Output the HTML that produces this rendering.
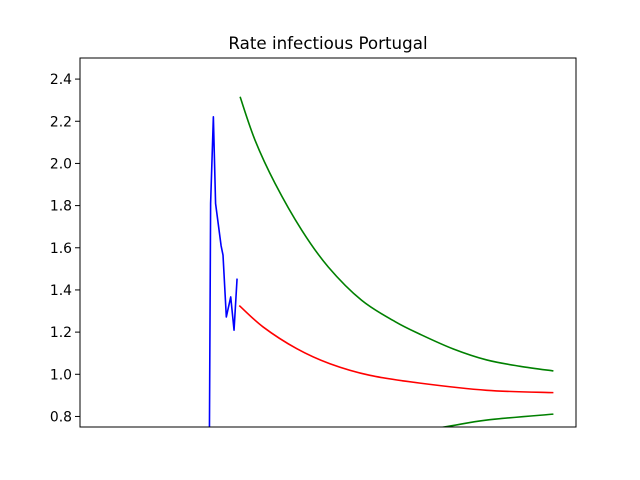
<!DOCTYPE html>
<html><head><meta charset="utf-8"><style>
html,body{margin:0;padding:0;background:#fff;width:640px;height:480px;overflow:hidden}
svg{display:block}
svg text{font-family:"DejaVu Sans","Liberation Sans",sans-serif}
</style></head><body>
<svg id="chart" width="640" height="480" xmlns="http://www.w3.org/2000/svg">
<rect width="640" height="480" fill="#fff"/>
<text x="328" y="49" text-anchor="middle" font-size="16.7">Rate infectious Portugal</text>
<defs><clipPath id="clip"><rect x="80" y="58" width="496" height="369"/></clipPath></defs>
<g id="yaxis"></g>
<g id="series" clip-path="url(#clip)"></g>
<rect x="80" y="58" width="496" height="369" fill="none" stroke="#000" stroke-width="1"/>
</svg>
<script>
const yTicks=[0.8,1.0,1.2,1.4,1.6,1.8,2.0,2.2,2.4];
const yTickLabels=["0.8","1.0","1.2","1.4","1.6","1.8","2.0","2.2","2.4"];
const blueT=[46.8,47.4,48.4,49.2,51.2,51.9,53.1,54.7,55.9,57.0];
const blueV=[0.3,1.81,2.221,1.81,1.61,1.565,1.272,1.367,1.209,1.454];
const greenUpT=[58.1,63.5,70.8,80.5,90.1,102.2,114.3,123.4,135.5,147.6,159.7,171.8];
const greenUpV=[2.316,2.111,1.905,1.683,1.509,1.351,1.250,1.190,1.120,1.068,1.038,1.016];
const redT=[57.8,66.5,78.6,90.7,105.2,123.4,147.6,171.8];
const redV=[1.326,1.224,1.122,1.050,0.995,0.958,0.924,0.913];
const greenLowT=[57.8,90.7,108.9,131.8,147.6,171.8];
const greenLowV=[0.52,0.645,0.705,0.749,0.783,0.811];
const X=t=>80+t*(496/180);
const Y=v=>427-(v-0.75)*(369/1.75);
const NS="http://www.w3.org/2000/svg";
const ya=document.getElementById('yaxis');
yTicks.forEach((v,i)=>{
  const y=Y(v);
  const l=document.createElementNS(NS,'line');
  
  
  l.setAttribute('x1',75);l.setAttribute('x2',80);l.setAttribute('y1',y);l.setAttribute('y2',y);
  l.setAttribute('stroke','#000');
  ya.appendChild(l);
  const t=document.createElementNS(NS,'text');
  
  
  t.setAttribute('x',72);t.setAttribute('y',y+5);t.setAttribute('text-anchor','end');t.setAttribute('font-size','13.9');
  t.textContent=yTickLabels[i];
  ya.appendChild(t);
});
const sg=document.getElementById('series');
function pathD(ts,vs,smooth){
  const p=ts.map((t,i)=>[X(t),Y(vs[i])]);
  let d='M'+p[0][0]+','+p[0][1];
  for(let i=0;i<p.length-1;i++){
    if(!smooth){d+=' L'+p[i+1][0]+','+p[i+1][1];continue;}
    const p0=p[i-1]||p[i],p1=p[i],p2=p[i+1],p3=p[i+2]||p2;
    const c1=[p1[0]+(p2[0]-p0[0])/6,p1[1]+(p2[1]-p0[1])/6];
    const c2=[p2[0]-(p3[0]-p1[0])/6,p2[1]-(p3[1]-p1[1])/6];
    d+=' C'+c1[0]+','+c1[1]+' '+c2[0]+','+c2[1]+' '+p2[0]+','+p2[1];
  }
  return d;
}
function line(ts,vs,color,name,smooth){
  const p=document.createElementNS(NS,'path');
  
  
  p.setAttribute('d',pathD(ts,vs,smooth));
  p.setAttribute('fill','none');p.setAttribute('stroke',color);p.setAttribute('stroke-width','1.6');
  p.setAttribute('stroke-linejoin','round');
  sg.appendChild(p);
}
line(blueT,blueV,'#0000ff','observed-rate-line',false);
line(greenUpT,greenUpV,'#008000','upper-bound-line',true);
line(redT,redV,'#ff0000','projected-rate-line',true);
line(greenLowT,greenLowV,'#008000','lower-bound-line',true);
</script>
</body></html>
